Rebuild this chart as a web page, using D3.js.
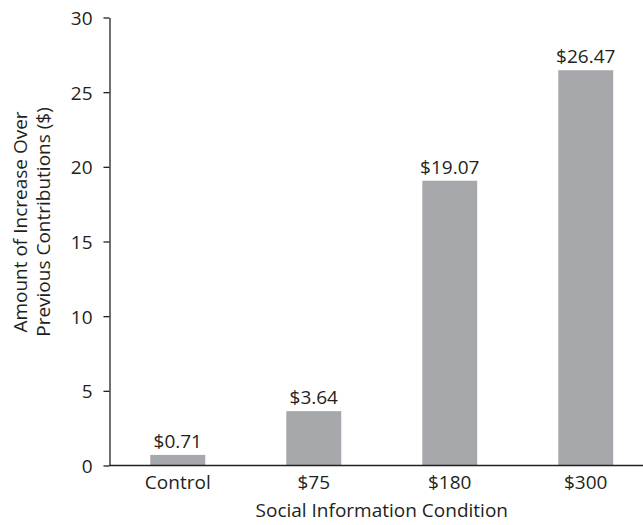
<!DOCTYPE html>
<html>
<head>
<meta charset="utf-8">
<script src="https://cdn.jsdelivr.net/npm/d3@7"></script>
<style>
  html, body { margin: 0; padding: 0; background: #fff; }
  svg text { font-family: "Open Sans", "Noto Sans", sans-serif; fill: #231f20; }
</style>
</head>
<body>
<svg id="chart" width="643" height="525"></svg>
<script>
// Increase over previous contributions by social information condition
const categories = ["Control", "$75", "$180", "$300"];
const values = [0.71, 3.64, 19.07, 26.47];
const valueLabels = ["$0.71", "$3.64", "$19.07", "$26.47"];
const yTicks = [0, 5, 10, 15, 20, 25, 30];

const svg = d3.select("#chart");
const W = 643;
const axisX = 109.5, baseY = 465.5;

const x = d3.scaleBand()
  .domain(categories)
  .range([axisX, 654])
  .paddingInner(0.596)
  .paddingOuter(0.3);

const y = d3.scaleLinear().domain([0, 30]).range([baseY, 17.5]);

const ink = "#231f20";
const fontSize = 19;

// bars
svg.append("g").selectAll("rect")
  .data(values)
  .join("rect")
  .attr("x", (d, i) => x(categories[i]))
  .attr("width", x.bandwidth())
  .attr("y", d => y(d))
  .attr("height", d => y(0) - y(d))
  .attr("fill", "#a7a8ab");

// value labels
svg.append("g").selectAll("text")
  .data(values)
  .join("text")
  .attr("x", (d, i) => x(categories[i]) + x.bandwidth() / 2)
  .attr("y", d => y(d) - 7)
  .attr("text-anchor", "middle")
  .style("font-size", fontSize + "px")
  .text((d, i) => valueLabels[i]);

// y axis
const yAxis = svg.append("g")
  .attr("transform", `translate(${axisX},0)`)
  .call(d3.axisLeft(y).tickValues(yTicks).tickSize(6).tickPadding(11).tickSizeOuter(0));
yAxis.select(".domain").attr("stroke", ink).attr("stroke-width", 1.3);
yAxis.selectAll(".tick line").attr("stroke", ink).attr("stroke-width", 1.3);
yAxis.selectAll(".tick text")
  .style("font-size", fontSize + "px")
  .style("font-family", "'Open Sans', sans-serif")
  .attr("fill", ink)
  .attr("dy", "0.36em");

// x axis
const xAxis = svg.append("g")
  .attr("transform", `translate(0,${baseY})`)
  .call(d3.axisBottom(x).tickSize(0).tickPadding(10));
xAxis.select(".domain").remove();
xAxis.append("line")
  .attr("x1", axisX).attr("x2", W)
  .attr("stroke", ink).attr("stroke-width", 1.3);
xAxis.selectAll(".tick text")
  .style("font-size", fontSize + "px")
  .style("font-family", "'Open Sans', sans-serif")
  .attr("fill", ink)
  .attr("dy", "0.71em");

// axis titles
const midX = (x(categories[0]) + x(categories[3]) + x.bandwidth()) / 2;
svg.append("text")
  .attr("x", midX)
  .attr("y", 517)
  .attr("text-anchor", "middle")
  .style("font-size", fontSize + "px")
  .text("Social Information Condition");

const yTitle = svg.append("text")
  .attr("transform", "translate(0,222) rotate(-90)")
  .attr("text-anchor", "middle")
  .style("font-size", fontSize + "px");
yTitle.append("tspan").attr("x", 0).attr("y", 27).text("Amount of Increase Over");
yTitle.append("tspan").attr("x", 0).attr("y", 50).text("Previous Contributions ($)");
</script>
</body>
</html>
